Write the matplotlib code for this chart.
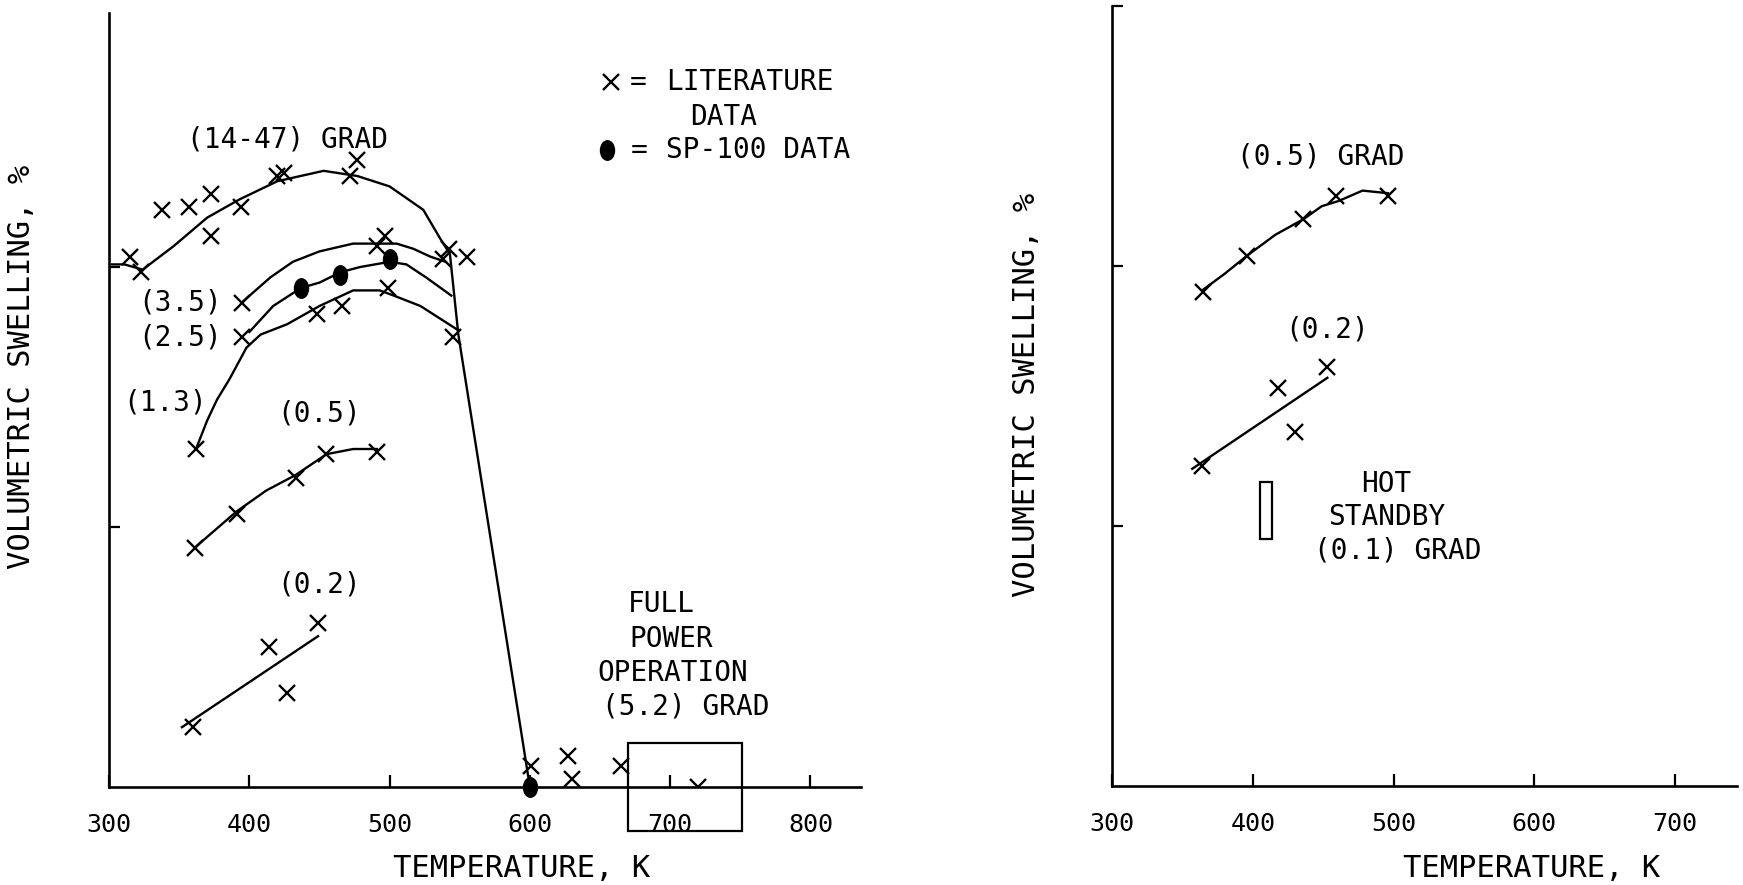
import matplotlib
matplotlib.use("Agg")
import matplotlib.pyplot as plt
from matplotlib.patches import Rectangle
from matplotlib.path import Path
from matplotlib.transforms import Affine2D

plt.rcParams['font.family'] = ['DejaVu Sans Mono', 'DejaVu Sans']

# ---------------- data (temperature K, swelling in chart units) ----------------
# left panel: (14-47) grad envelope, continues into the steep drop to 600 K
env_T = [302, 311, 324, 346, 370, 393, 420, 453, 477, 500, 524, 536, 543, 549, 600]
env_Y = [2.01, 2.01, 1.99, 2.08, 2.19, 2.26, 2.33, 2.37, 2.35, 2.31, 2.22, 2.11, 2.05, 1.74, 0.0]
env_xT = [315, 323, 338, 357, 373, 373, 394, 420, 425, 472, 477, 497, 491, 538, 542, 555]
env_xY = [2.04, 1.98, 2.22, 2.23, 2.28, 2.12, 2.23, 2.35, 2.36, 2.35, 2.41, 2.12, 2.08, 2.03, 2.07, 2.04]

# (3.5) grad
g35_T = [396, 415, 431, 450, 474, 491, 505, 517, 529, 540]
g35_Y = [1.87, 1.96, 2.02, 2.06, 2.09, 2.09, 2.09, 2.07, 2.04, 2.02]
# (2.5) grad, SP-100 points sit on it
g25_T = [400, 417, 437, 450, 465, 479, 500, 512, 526, 544]
g25_Y = [1.75, 1.85, 1.92, 1.94, 1.98, 2.00, 2.02, 2.01, 1.96, 1.89]
sp100_T = [437, 465, 500, 600]
sp100_Y = [1.92, 1.97, 2.03, 0.0]
# (1.3) grad
g13_T = [362, 370, 377, 386, 398, 408, 427, 450, 474, 493, 503, 522, 548]
g13_Y = [1.30, 1.41, 1.49, 1.57, 1.69, 1.74, 1.78, 1.85, 1.91, 1.91, 1.89, 1.85, 1.76]
mid_xT = [395, 395, 448, 466, 499, 362, 545]
mid_xY = [1.86, 1.73, 1.82, 1.85, 1.92, 1.30, 1.73]

# (0.5) grad
g05_T = [361, 391, 412, 433, 455, 474, 491]
g05_Y = [0.92, 1.06, 1.14, 1.20, 1.28, 1.30, 1.30]
g05_xT = [361, 391, 433, 455, 491]
g05_xY = [0.92, 1.05, 1.19, 1.28, 1.29]
# (0.2) grad
g02_T = [352, 449]
g02_Y = [0.23, 0.58]
g02_xT = [360, 414, 427, 449]
g02_xY = [0.23, 0.54, 0.36, 0.63]

# points above 600 K
hot_xT = [601, 627, 630, 665, 720]
hot_xY = [0.08, 0.12, 0.03, 0.08, 0.0]

# full power operation box
fp_T = [670, 751]
fp_Y = [-0.17, 0.17]

# right panel (hot standby)
r05_T = [365, 380, 396, 416, 436, 449, 461, 478, 496]
r05_Y = [1.91, 1.97, 2.04, 2.12, 2.18, 2.23, 2.25, 2.29, 2.28]
r05_xT = [365, 396, 436, 459, 496]
r05_xY = [1.90, 2.04, 2.18, 2.27, 2.27]
r02_T = [357, 453]
r02_Y = [1.22, 1.57]
r02_xT = [364, 418, 430, 453]
r02_xY = [1.23, 1.53, 1.36, 1.61]
standby_T = [405, 414]
standby_Y = [0.95, 1.17]

left_ticks = [300, 400, 500, 600, 700, 800]
right_ticks = [300, 400, 500, 600, 700]

# ---------------- style ----------------
LW = 1.7
XM = dict(ls='none', marker='x', ms=12, mew=1.7, color='k')
oval = Path.unit_circle().transformed(Affine2D().scale(0.72, 1.0))
DOT = dict(ls='none', marker=oval, ms=14, color='k')
TXT = 20
LAB = 22


def style_axes(ax, xticks, yticks):
    for s in ['top', 'right']:
        ax.spines[s].set_visible(False)
    for s in ['left', 'bottom']:
        ax.spines[s].set_linewidth(1.9)
    ax.set_xticks(xticks)
    ax.set_yticks(yticks)
    ax.set_yticklabels([])
    ax.tick_params(axis='x', direction='in', length=9, width=1.6, labelsize=18, pad=19)
    ax.tick_params(axis='y', direction='in', length=8, width=1.6)


fig = plt.figure(figsize=(17.43, 8.85), dpi=100)

# ---------------- left panel ----------------
ax = fig.add_axes([109 / 1743, 98 / 885, 752 / 1743, 774 / 885])
ax.set_xlim(300, 836)
ax.set_ylim(0, 2.977)
style_axes(ax, left_ticks, [1, 2])

ax.plot(env_T, env_Y, color='k', lw=LW)
ax.plot(g35_T, g35_Y, color='k', lw=LW)
ax.plot(g25_T, g25_Y, color='k', lw=LW)
ax.plot(g13_T, g13_Y, color='k', lw=LW)
ax.plot(g05_T, g05_Y, color='k', lw=LW)
ax.plot(g02_T, g02_Y, color='k', lw=LW)

ax.plot(env_xT, env_xY, **XM)
ax.plot(mid_xT, mid_xY, **XM)
ax.plot(g05_xT, g05_xY, **XM)
ax.plot(g02_xT, g02_xY, **XM)
ax.plot(hot_xT, hot_xY, **XM)
ax.plot(sp100_T, sp100_Y, clip_on=False, **DOT)

ax.add_patch(Rectangle((fp_T[0], fp_Y[0]), fp_T[1] - fp_T[0], fp_Y[1] - fp_Y[0],
                       fill=False, lw=1.6, ec='k', clip_on=False))

ax.text(427, 2.49, '(14-47) GRAD', fontsize=TXT, ha='center', va='center')
ax.text(351, 1.865, '(3.5)', fontsize=TXT, ha='center', va='center')
ax.text(351, 1.727, '(2.5)', fontsize=TXT, ha='center', va='center')
ax.text(340, 1.48, '(1.3)', fontsize=TXT, ha='center', va='center')
ax.text(450, 1.438, '(0.5)', fontsize=TXT, ha='center', va='center')
ax.text(450, 0.777, '(0.2)', fontsize=TXT, ha='center', va='center')
ax.text(694, 0.705, 'FULL', fontsize=TXT, ha='center', va='center')
ax.text(701, 0.568, 'POWER', fontsize=TXT, ha='center', va='center')
ax.text(702, 0.440, 'OPERATION', fontsize=TXT, ha='center', va='center')
ax.text(711, 0.308, '(5.2) GRAD', fontsize=TXT, ha='center', va='center')

# key
ax.plot([658], [2.712], **XM)
ax.text(677, 2.712, '=', fontsize=TXT, ha='center', va='center')
ax.text(697, 2.712, 'LITERATURE', fontsize=TXT, ha='left', va='center')
ax.text(714, 2.577, 'DATA', fontsize=TXT, ha='left', va='center')
ax.plot([655], [2.45], **DOT)
ax.text(678, 2.45, '=', fontsize=TXT, ha='center', va='center')
ax.text(697, 2.45, 'SP-100 DATA', fontsize=TXT, ha='left', va='center')

ax.set_xlabel('TEMPERATURE, K', fontsize=LAB)
ax.xaxis.set_label_coords(0.549, -0.087)
ax.set_ylabel('VOLUMETRIC SWELLING, %', fontsize=LAB)
ax.yaxis.set_label_coords(-0.097, 0.543)

# ---------------- right panel ----------------
ax2 = fig.add_axes([1112 / 1743, 99 / 885, 625 / 1743, 780 / 885])
ax2.set_xlim(300, 744)
ax2.set_ylim(0, 3.0)
style_axes(ax2, right_ticks, [1, 2, 3])

ax2.plot(r05_T, r05_Y, color='k', lw=LW)
ax2.plot(r02_T, r02_Y, color='k', lw=LW)
ax2.plot(r05_xT, r05_xY, **XM)
ax2.plot(r02_xT, r02_xY, **XM)
ax2.add_patch(Rectangle((standby_T[0], standby_Y[0]), standby_T[1] - standby_T[0],
                        standby_Y[1] - standby_Y[0], fill=False, lw=1.6, ec='k'))

ax2.text(448, 2.423, '(0.5) GRAD', fontsize=TXT, ha='center', va='center')
ax2.text(453, 1.754, '(0.2)', fontsize=TXT, ha='center', va='center')
ax2.text(495, 1.163, 'HOT', fontsize=TXT, ha='center', va='center')
ax2.text(495, 1.035, 'STANDBY', fontsize=TXT, ha='center', va='center')
ax2.text(503, 0.904, '(0.1) GRAD', fontsize=TXT, ha='center', va='center')

ax2.set_xlabel('TEMPERATURE, K', fontsize=LAB)
ax2.xaxis.set_label_coords(0.672, -0.087)
ax2.set_ylabel('VOLUMETRIC SWELLING, %', fontsize=LAB)
ax2.yaxis.set_label_coords(-0.113, 0.501)

fig.savefig('out.png', dpi=100)
